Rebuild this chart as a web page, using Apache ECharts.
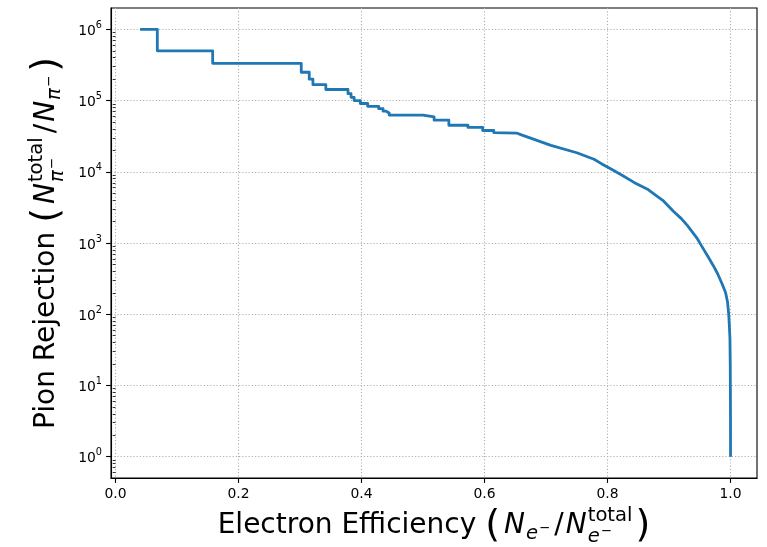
<!DOCTYPE html>
<html>
<head>
<meta charset="utf-8">
<script src="https://cdn.jsdelivr.net/npm/echarts@6/dist/echarts.min.js"></script>
<style>
  html, body { margin: 0; padding: 0; background: #fff; }
  #chart { width: 767px; height: 547px; }
</style>
</head>
<body>
<div id="chart"></div>
<script>
// ROC-style curve: electron efficiency vs. pion rejection (staircase at low efficiency)
const efficiency = [
  0.040, 0.068, 0.068, 0.158, 0.158, 0.302, 0.302, 0.315, 0.315, 0.321,
  0.321, 0.342, 0.342, 0.378, 0.378, 0.383, 0.383, 0.388, 0.388, 0.398,
  0.398, 0.410, 0.410, 0.428, 0.428, 0.435, 0.435, 0.440, 0.440, 0.445,
  0.445, 0.500, 0.500, 0.518, 0.518, 0.542, 0.542, 0.573, 0.573, 0.597,
  0.597, 0.615, 0.615, 0.652, 0.660, 0.708, 0.750, 0.778, 0.790, 0.805,
  0.825, 0.843, 0.865, 0.878, 0.891, 0.907, 0.920, 0.930, 0.946, 0.956,
  0.963, 0.972, 0.979, 0.986, 0.992, 0.995, 0.997, 0.998, 0.999, 0.9995,
  0.9997, 0.9999, 1.000
];
const rejection = [
  1e6, 1e6, 5e5, 5e5, 3.33e5, 3.33e5, 2.5e5, 2.5e5, 2e5, 2e5,
  1.67e5, 1.67e5, 1.43e5, 1.43e5, 1.25e5, 1.25e5, 1.11e5, 1.11e5, 1e5, 1e5,
  9.1e4, 9.1e4, 8.3e4, 8.3e4, 7.7e4, 7.7e4, 7.1e4, 7.1e4, 6.7e4, 6.7e4,
  6.25e4, 6.25e4, 5.9e4, 5.9e4, 5.3e4, 5.3e4, 4.5e4, 4.5e4, 4.2e4, 4.2e4,
  3.8e4, 3.8e4, 3.55e4, 3.5e4, 3.3e4, 2.35e4, 1.85e4, 1.5e4, 1.3e4, 1.1e4,
  8.8e3, 7.1e3, 5.7e3, 4.7e3, 3.9e3, 2.8e3, 2.2e3, 1.75e3, 1.15e3, 820,
  650, 480, 370, 270, 200, 150, 100, 70, 46, 20,
  10, 4, 1
];

const xTicks = [0.0, 0.2, 0.4, 0.6, 0.8, 1.0];
const xTickLabels = ['0.0', '0.2', '0.4', '0.6', '0.8', '1.0'];
const yTicks = [1, 10, 100, 1e3, 1e4, 1e5, 1e6];
const yTickExponents = ['0', '1', '2', '3', '4', '5', '6'];
const yMinorTicks = [];
for (let k = -1; k <= 6; k++) {
  for (let m = 2; m <= 9; m++) yMinorTicks.push(m * Math.pow(10, k));
}

const FONT = '"DejaVu Sans", "Liberation Sans", sans-serif';
const INK = '#000';
const X_MIN = -0.0073, X_MAX = 1.043;
const Y_MIN = Math.pow(10, -0.3), Y_MAX = Math.pow(10, 6.3);

// --- axis titles with math-style sub/superscripts, laid out from measured runs ---
const measureCtx = document.createElement('canvas').getContext('2d');
function fontOf(r) { return (r.italic ? 'italic ' : '') + r.size + 'px ' + FONT; }
function widthOf(r) { measureCtx.font = fontOf(r); return measureCtx.measureText(r.text).width; }

function layoutRuns(pieces) {
  const els = [];
  let x = 0;
  const placeRun = (r, x0) => {
    els.push({
      type: 'text',
      x: x0,
      y: -(r.rise || 0) - 0.3 * r.size,
      style: { text: r.text, font: fontOf(r), fill: INK, align: 'left', verticalAlign: 'middle' },
      silent: true
    });
    return widthOf(r) + (r.gap || 0);
  };
  pieces.forEach(p => {
    if (p.stack) {
      let w = 0;
      p.stack.forEach(line => {
        let lx = x;
        line.forEach(r => { lx += placeRun(r, lx); });
        w = Math.max(w, lx - x);
      });
      x += w + (p.gap || 0);
    } else {
      x += placeRun(p, x);
    }
  });
  els.forEach(e => { e.x -= x / 2; });
  return els;
}

const F = 28, S = 19.6, P = 38, M = 13.5;
const xTitleRuns = [
  { text: 'Electron Efficiency ', size: F },
  { text: '(', size: P, rise: -4, gap: 4 },
  { text: 'N', size: F, italic: true, gap: 1 },
  { text: 'e', size: S, italic: true, rise: -6, gap: 1 },
  { text: '\u2212', size: M, rise: 1, gap: 4 },
  { text: '/', size: F, gap: 2 },
  { text: 'N', size: F, italic: true, gap: 1 },
  { stack: [
    [{ text: 'total', size: S, rise: 12 }],
    [{ text: 'e', size: S, italic: true, rise: -9, gap: 1 }, { text: '\u2212', size: M, rise: -2 }]
  ], gap: 3 },
  { text: ')', size: P, rise: -4 }
];
const yTitleRuns = [
  { text: 'Pion Rejection ', size: F },
  { text: '(', size: P, rise: -4, gap: 4 },
  { text: 'N', size: F, italic: true, gap: 1 },
  { stack: [
    [{ text: 'total', size: S, rise: 12 }],
    [{ text: '\u03c0', size: S, italic: true, rise: -9, gap: 1 }, { text: '\u2212', size: M, rise: -2 }]
  ], gap: 4 },
  { text: '/', size: F, gap: 2 },
  { text: 'N', size: F, italic: true, gap: 1 },
  { text: '\u03c0', size: S, italic: true, rise: -6, gap: 1 },
  { text: '\u2212', size: M, rise: 1, gap: 4 },
  { text: ')', size: P, rise: -4 }
];

const chart = echarts.init(document.getElementById('chart'), null, { renderer: 'canvas' });

const option = {
  animation: false,
  backgroundColor: '#fff',
  grid: {
    left: 111, right: 10, top: 8, bottom: 69,
    show: true, borderColor: INK, borderWidth: 1.1, backgroundColor: '#fff'
  },
  xAxis: {
    type: 'value',
    min: X_MIN, max: X_MAX,
    axisLine: { show: true, onZero: false, lineStyle: { color: INK, width: 1.1 } },
    axisTick: { show: true, length: 4.9, customValues: xTicks, lineStyle: { color: INK, width: 1.1 } },
    axisLabel: {
      show: true, margin: 9, customValues: xTicks,
      fontFamily: FONT, fontSize: 13.9, color: INK,
      formatter: v => xTickLabels[xTicks.findIndex(t => Math.abs(t - v) < 1e-9)] || ''
    },
    splitLine: { show: true, lineStyle: { color: '#b0b0b0', width: 1.1, type: [1.2, 2] } }
  },
  yAxis: [
    {
      type: 'log', logBase: 10,
      min: Y_MIN, max: Y_MAX,
      position: 'left',
      axisLine: { show: true, onZero: false, lineStyle: { color: INK, width: 1.1 } },
      axisTick: { show: true, length: 4.9, customValues: yTicks, lineStyle: { color: INK, width: 1.1 } },
      axisLabel: {
        show: true, margin: 9, customValues: yTicks,
        formatter: v => {
          const i = yTicks.findIndex(t => Math.abs(Math.log10(t) - Math.log10(v)) < 1e-6);
          return i < 0 ? '' : '{b|10}{s|' + yTickExponents[i] + '}';
        },
        rich: {
          b: { fontFamily: FONT, fontSize: 13.9, color: INK, verticalAlign: 'bottom' },
          s: { fontFamily: FONT, fontSize: 9.7, color: INK, padding: [0, 0, 8, 0], verticalAlign: 'bottom' }
        }
      },
      splitLine: { show: true, lineStyle: { color: '#b0b0b0', width: 1.1, type: [1.2, 2] } }
    },
    {
      type: 'log', logBase: 10,
      min: Y_MIN, max: Y_MAX,
      position: 'left', offset: 0,
      axisLine: { show: false },
      axisTick: { show: true, length: 2.8, customValues: yMinorTicks, lineStyle: { color: INK, width: 0.8 } },
      axisLabel: { show: false },
      splitLine: { show: false }
    }
  ],
  series: [
    {
      type: 'line',
      xAxisIndex: 0, yAxisIndex: 0,
      data: efficiency.map((e, i) => [e, rejection[i]]),
      showSymbol: false,
      symbol: 'none',
      clip: true,
      silent: true,
      lineStyle: { color: '#1f77b4', width: 2.8, join: 'round', cap: 'butt' }
    }
  ],
  graphic: [
    { type: 'group', x: 434, y: 534, children: layoutRuns(xTitleRuns), silent: true },
    { type: 'group', x: 55, y: 243, rotation: Math.PI / 2, children: layoutRuns(yTitleRuns), silent: true }
  ]
};

chart.setOption(option);
</script>
</body>
</html>
